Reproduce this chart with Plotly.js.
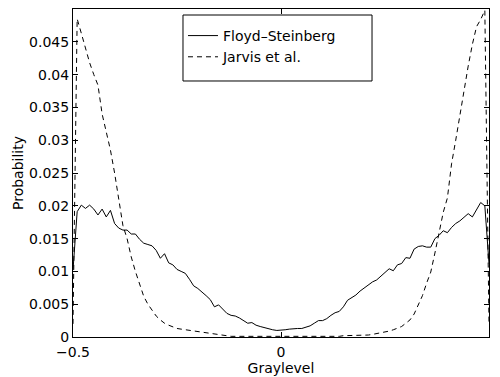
<!DOCTYPE html>
<html>
<head>
<meta charset="utf-8">
<script src="https://cdn.plot.ly/plotly-3.0.1.min.js"></script>
<style>html,body{margin:0;padding:0;background:#fff}#chart{width:500px;height:377px}</style>
</head>
<body>
<div id="chart"></div>
<script>
// Graylevel bins from -0.5 to 0.5, step 0.01
const graylevel = [-0.50,-0.49,-0.48,-0.47,-0.46,-0.45,-0.44,-0.43,-0.42,-0.41,-0.40,-0.39,-0.38,-0.37,-0.36,-0.35,-0.34,-0.33,-0.32,-0.31,-0.30,-0.29,-0.28,-0.27,-0.26,-0.25,-0.24,-0.23,-0.22,-0.21,-0.20,-0.19,-0.18,-0.17,-0.16,-0.15,-0.14,-0.13,-0.12,-0.11,-0.10,-0.09,-0.08,-0.07,-0.06,-0.05,-0.04,-0.03,-0.02,-0.01,0.00,0.01,0.02,0.03,0.04,0.05,0.06,0.07,0.08,0.09,0.10,0.11,0.12,0.13,0.14,0.15,0.16,0.17,0.18,0.19,0.20,0.21,0.22,0.23,0.24,0.25,0.26,0.27,0.28,0.29,0.30,0.31,0.32,0.33,0.34,0.35,0.36,0.37,0.38,0.39,0.40,0.41,0.42,0.43,0.44,0.45,0.46,0.47,0.48,0.49,0.50];

const floydSteinberg = [0.0102,0.0191,0.0201,0.0196,0.0201,0.0195,0.0186,0.0195,0.0183,0.0193,0.0173,0.0166,0.0163,0.0163,0.0157,0.0157,0.0149,0.0143,0.0141,0.0139,0.0132,0.0120,0.0127,0.0113,0.0110,0.0103,0.0100,0.0097,0.0088,0.0078,0.0074,0.0069,0.0063,0.0057,0.0046,0.0049,0.0043,0.0036,0.0033,0.0032,0.0029,0.0025,0.0021,0.0022,0.0018,0.0016,0.0014,0.0013,0.0011,0.0010,0.0010,0.0011,0.0012,0.0013,0.0013,0.0013,0.0015,0.0017,0.0021,0.0025,0.0025,0.0028,0.0033,0.0037,0.0039,0.0046,0.0056,0.0060,0.0064,0.0070,0.0075,0.0080,0.0084,0.0087,0.0093,0.0098,0.0104,0.0101,0.0110,0.0112,0.0121,0.0120,0.0134,0.0138,0.0139,0.0137,0.0137,0.0150,0.0155,0.0162,0.0159,0.0167,0.0173,0.0177,0.0182,0.0188,0.0183,0.0195,0.0205,0.0200,0.0112];

const jarvis = [0.0020,0.0485,0.0463,0.0440,0.0418,0.0400,0.0384,0.0340,0.0313,0.0285,0.0250,0.0210,0.0170,0.0150,0.0122,0.0100,0.0080,0.0062,0.0050,0.0040,0.0032,0.0026,0.0021,0.0018,0.0015,0.0013,0.0012,0.0011,0.0010,0.0009,0.0008,0.0007,0.0006,0.0005,0.0004,0.0003,0.0002,0.0002,0.0001,0.0001,0.0001,0.0001,0.0001,0.00005,0.00005,0.00005,0.00005,0.00005,0.00005,0.00005,0.00005,0.00005,0.00005,0.00005,0.00005,0.00005,0.00005,0.00005,0.0001,0.0001,0.0001,0.0001,0.0001,0.0001,0.0001,0.0002,0.0002,0.0002,0.0002,0.0003,0.0003,0.0003,0.0004,0.0005,0.0006,0.0008,0.0009,0.0011,0.0013,0.0016,0.0021,0.0026,0.0035,0.0048,0.0063,0.0082,0.0099,0.0128,0.0160,0.0190,0.0212,0.0264,0.0300,0.0339,0.0376,0.0413,0.0446,0.0473,0.0484,0.0498,0.0020];

const seriesNames = ['Floyd\u2013Steinberg', 'Jarvis et al.'];
const xTicks = [-0.5, 0, 0.5];
const xTickText = ['\u22120.5', '0', '0.5'];
const yTicks = [0, 0.005, 0.01, 0.015, 0.02, 0.025, 0.03, 0.035, 0.04, 0.045];
const yTickText = ['0', '0.005', '0.01', '0.015', '0.02', '0.025', '0.03', '0.035', '0.04', '0.045'];

const FONT = 'DejaVu Sans, Liberation Sans, Arial, sans-serif';

const traces = [
  {x: graylevel, y: floydSteinberg, name: seriesNames[0], type: 'scatter', mode: 'lines',
   line: {color: '#000', width: 1}},
  {x: graylevel, y: jarvis, name: seriesNames[1], type: 'scatter', mode: 'lines',
   line: {color: '#000', width: 1, dash: '5px,4px'}}
];

const axisCommon = {
  showline: true, linecolor: '#000', linewidth: 1, mirror: 'ticks',
  ticks: 'inside', ticklen: 5, tickcolor: '#000', tickwidth: 1,
  showgrid: false, zeroline: false,
  tickfont: {family: FONT, size: 14, color: '#000'}
};

const layout = {
  width: 500, height: 377,
  margin: {l: 73, r: 11, t: 9, b: 40},
  paper_bgcolor: '#fff', plot_bgcolor: '#fff',
  font: {family: FONT, size: 14, color: '#000'},
  xaxis: Object.assign({}, axisCommon, {
    range: [-0.5, 0.5], tickmode: 'array', tickvals: xTicks, ticktext: xTickText,
    ticklabelstandoff: 2,
    title: {text: 'Graylevel', font: {family: FONT, size: 14, color: '#000'}, standoff: 0}
  }),
  yaxis: Object.assign({}, axisCommon, {
    range: [0, 0.05], tickmode: 'array', tickvals: yTicks, ticktext: yTickText,
    ticklabelstandoff: 0,
    title: {text: 'Probability', font: {family: FONT, size: 14, color: '#000'}, standoff: 2}
  }),
  shapes: [
    {type: 'rect', xref: 'paper', yref: 'paper', x0: 0.2644, x1: 0.7188, y0: 0.7805, y1: 0.9817,
     line: {color: '#000', width: 1}, fillcolor: '#fff', layer: 'above'}
  ],
  showlegend: true,
  legend: {
    x: 0.2644, y: 0.8857, xanchor: 'left', yanchor: 'middle',
    bgcolor: 'rgba(0,0,0,0)', borderwidth: 0,
    font: {family: FONT, size: 14, color: '#000'},
    tracegroupgap: 0
  }
};

Plotly.newPlot('chart', traces, layout, {displayModeBar: false, staticPlot: true});
</script>
</body>
</html>
